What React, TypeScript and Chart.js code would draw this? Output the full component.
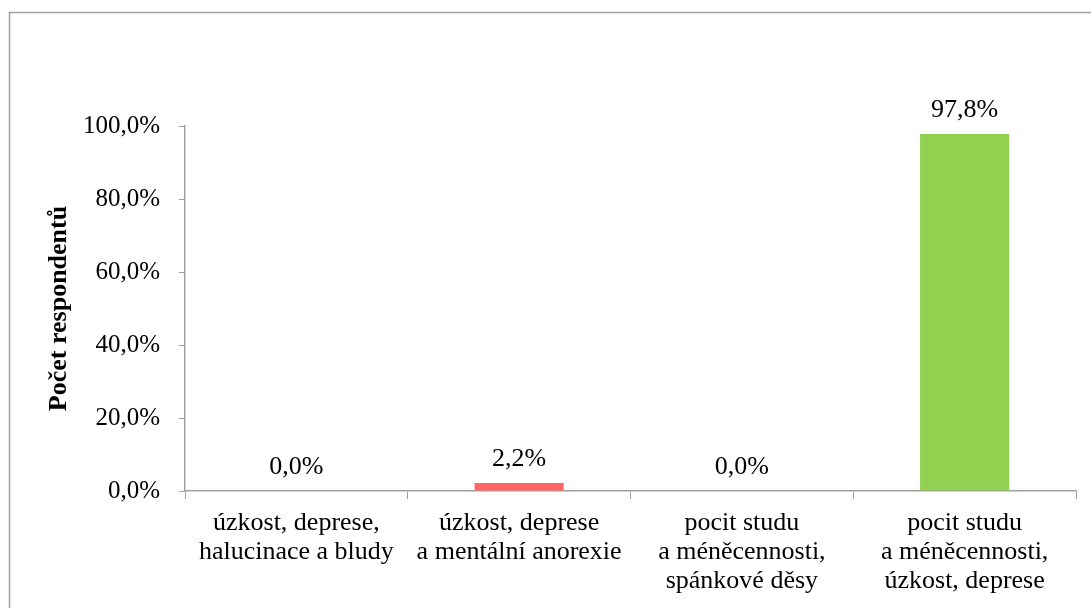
import React, { useEffect, useRef } from "react";
import { Chart, registerables } from "chart.js";

Chart.register(...registerables);

// Categories (multi-line axis labels)
const categories: string[][] = [
  ["úzkost, deprese,", "halucinace a bludy"],
  ["úzkost, deprese", "a mentální anorexie"],
  ["pocit studu", "a méněcennosti,", "spánkové děsy"],
  ["pocit studu", "a méněcennosti,", "úzkost, deprese"],
];

// Share of respondents, in percent
const values: number[] = [0.0, 2.2, 0.0, 97.8];

const barColors: string[] = ["#FF6565", "#FF6565", "#FF6565", "#92D050"];

const yTicks: number[] = [0, 20, 40, 60, 80, 100];

const axisTitle = "Počet respondentů";

const FONT = "'Liberation Serif', 'Times New Roman', serif";
const AXIS_GREY = "#A0A0A0";

const fmt = (v: number) => v.toFixed(1).replace(".", ",") + "%";

// Outer frame of the chart object
const framePlugin = {
  id: "frame",
  beforeDraw(chart: any) {
    const { ctx, width, height } = chart;
    ctx.save();
    ctx.fillStyle = "#ffffff";
    ctx.fillRect(0, 0, width, height);
    ctx.strokeStyle = AXIS_GREY;
    ctx.lineWidth = 1.5;
    ctx.beginPath();
    ctx.moveTo(9.5, height + 5);
    ctx.lineTo(9.5, 12.5);
    ctx.lineTo(width + 5, 12.5);
    ctx.stroke();
    ctx.restore();
  },
};

// Value labels above each bar
const valueLabelPlugin = {
  id: "valueLabels",
  afterDatasetsDraw(chart: any) {
    const { ctx } = chart;
    const meta = chart.getDatasetMeta(0);
    const data = chart.data.datasets[0].data as number[];
    ctx.save();
    ctx.font = `26px ${FONT}`;
    ctx.fillStyle = "#000000";
    ctx.textAlign = "center";
    ctx.textBaseline = "alphabetic";
    meta.data.forEach((bar: any, i: number) => {
      ctx.fillText(fmt(data[i]), bar.x, bar.y - 17);
    });
    ctx.restore();
  },
};

export default function App() {
  const canvasRef = useRef<HTMLCanvasElement | null>(null);

  useEffect(() => {
    if (!canvasRef.current) return;
    const chart = new Chart(canvasRef.current, {
      type: "bar",
      data: {
        labels: categories,
        datasets: [
          {
            data: values,
            backgroundColor: barColors,
            borderWidth: 0,
            categoryPercentage: 1,
            barPercentage: 0.4,
          },
        ],
      },
      options: {
        responsive: false,
        animation: false,
        devicePixelRatio: 1,
        layout: { padding: { top: 126, right: 15, bottom: 0, left: 0 } },
        plugins: {
          legend: { display: false },
          tooltip: { enabled: false },
        },
        scales: {
          x: {
            grid: {
              display: true,
              drawOnChartArea: false,
              drawTicks: true,
              tickLength: 8,
              color: AXIS_GREY,
              offset: true,
            },
            border: { display: true, color: AXIS_GREY, width: 1.5 },
            ticks: {
              color: "#000000",
              font: { family: FONT, size: 26, lineHeight: 1.115 },
              padding: 10,
              maxRotation: 0,
              minRotation: 0,
              autoSkip: false,
            },
            afterFit(scale: any) {
              scale.height = 117;
            },
          },
          y: {
            min: 0,
            max: 100,
            afterBuildTicks(scale: any) {
              scale.ticks = yTicks.map((v) => ({ value: v }));
            },
            grid: {
              display: true,
              drawOnChartArea: false,
              drawTicks: true,
              tickLength: 6,
              color: AXIS_GREY,
            },
            border: { display: true, color: AXIS_GREY, width: 1.5 },
            ticks: {
              color: "#000000",
              font: { family: FONT, size: 25 },
              padding: 19,
              callback: (v: any) => fmt(Number(v)),
            },
            title: {
              display: true,
              text: axisTitle,
              color: "#000000",
              font: { family: FONT, size: 26, weight: "bold", lineHeight: 1.2 },
              padding: { top: 44, bottom: 0 },
            },
            afterFit(scale: any) {
              scale.width = 185;
            },
          },
        },
      },
      plugins: [framePlugin, valueLabelPlugin],
    });
    return () => chart.destroy();
  }, []);

  return (
    <div style={{ position: "absolute", left: 0, top: 0, width: 1091, height: 608 }}>
      <canvas ref={canvasRef} width={1091} height={608} style={{ display: "block" }} />
    </div>
  );
}
